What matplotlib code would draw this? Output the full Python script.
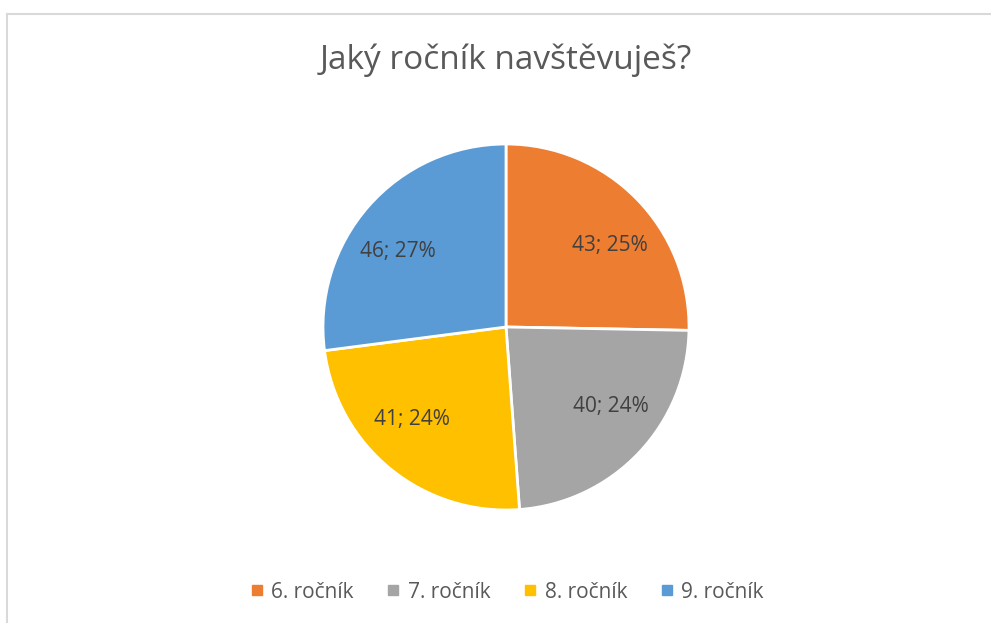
import matplotlib
matplotlib.use("Agg")
import matplotlib.pyplot as plt
from matplotlib.lines import Line2D
import numpy as np

categories = ["6. ročník", "7. ročník", "8. ročník", "9. ročník"]
values = [43, 40, 41, 46]
percents = [25, 24, 24, 27]
colors = ["#ED7D31", "#A5A5A5", "#FFC000", "#5B9BD5"]
title = "Jaký ročník navštěvuješ?"

plt.rcParams['font.family'] = ['Open Sans', 'DejaVu Sans']

W, H = 991, 623
fig = plt.figure(figsize=(W / 100, H / 100), dpi=100)

# frame lines (top and left)
fig.add_artist(Line2D([7 / W, 990 / W], [1 - 13.5 / H, 1 - 13.5 / H], color="#D9D9D9", lw=1.5))
fig.add_artist(Line2D([7 / W, 7 / W], [1 - 13.5 / H, 0], color="#D9D9D9", lw=1.5))

cx, cy, r = 506, 327, 183
ax = fig.add_axes([(cx - r) / W, 1 - (cy + r) / H, 2 * r / W, 2 * r / H])
wedges, texts = ax.pie(values, colors=colors, startangle=90, counterclock=False,
                       wedgeprops=dict(edgecolor="white", linewidth=2),
                       radius=1)
ax.set_xlim(-1, 1)
ax.set_ylim(-1, 1)
ax.set_aspect("equal")
ax.axis("off")

total = sum(values)
start = 90.0
for v, p in zip(values, percents):
    ang = start - 360.0 * v / total / 2
    start -= 360.0 * v / total
    # Excel places labels a bit more toward the horizontal
    ang_adj = np.degrees(np.arctan2(np.sin(np.radians(ang)) * 0.8, np.cos(np.radians(ang))))
    x = 0.72 * np.cos(np.radians(ang_adj))
    y = 0.72 * np.sin(np.radians(ang_adj))
    ax.text(x, y, f"{v}; {p}%", ha="center", va="center", fontsize=15, color="#404040")

fig.text(cx / W, 1 - 60 / H, title, ha="center", va="center", fontsize=24, color="#595959")

handles = [Line2D([0], [0], marker="s", color="none", markerfacecolor=c, markeredgecolor=c,
                  markersize=7) for c in colors]
fig.legend(handles, categories, loc="center", bbox_to_anchor=(cx / W, 1 - 592 / H), ncol=4,
           frameon=False, fontsize=15, labelcolor="#595959", handlelength=0.8,
           handletextpad=0.3, columnspacing=1.5)

fig.savefig("out.png", dpi=100)
